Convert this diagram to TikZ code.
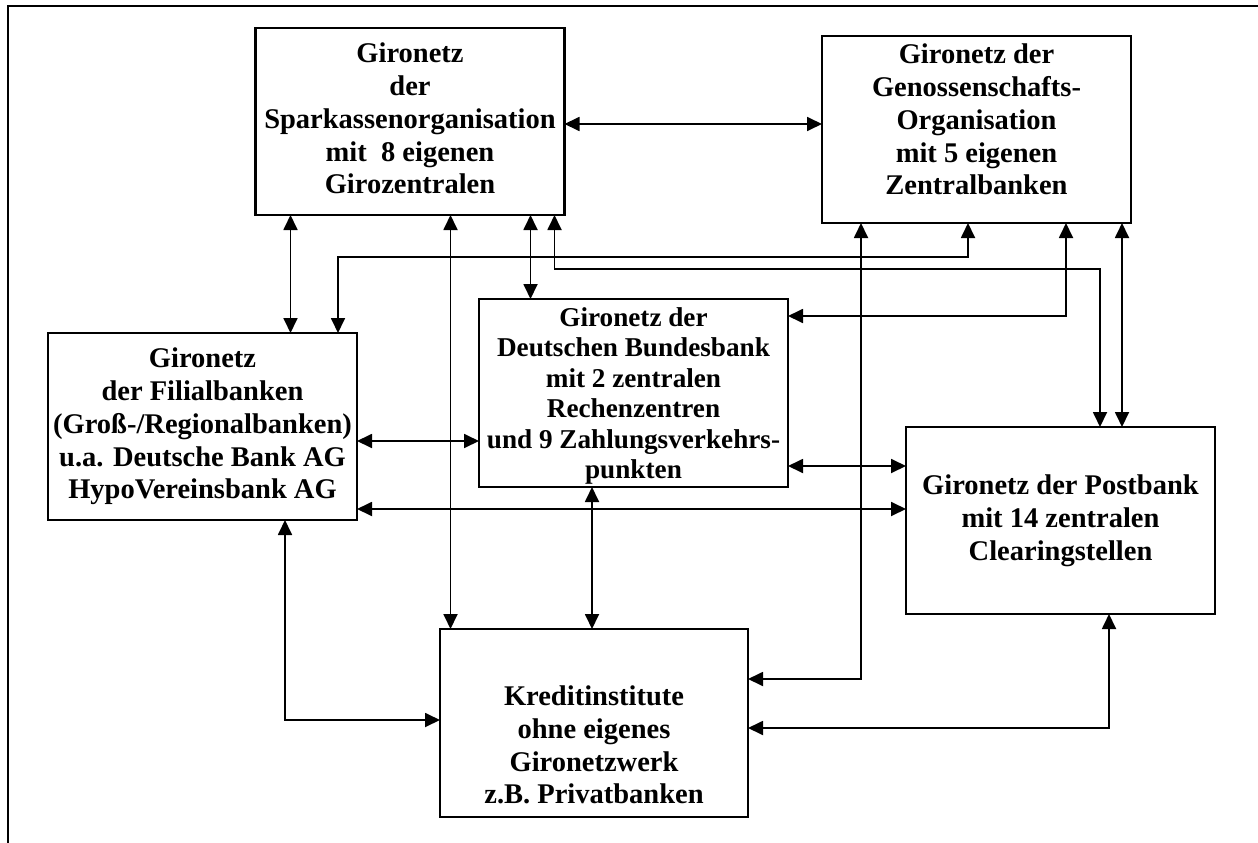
\documentclass[tikz,border=0pt]{standalone}
\usepackage{fontspec}
\setmainfont{Liberation Serif}
\usetikzlibrary{arrows.meta,calc}

\tikzset{
  netbox/.style={draw, line width=2.2pt, minimum width=309pt, minimum height=187pt,
    inner sep=0pt, outer sep=0pt},
  boxtext/.style={align=center, inner sep=0pt, font=\bfseries\fontsize{28.5}{32.8}\selectfont},
  smalltext/.style={boxtext, font=\bfseries\fontsize{27.2}{30.5}\selectfont},
  link/.style={line width=1.8pt, {Triangle[length=15pt,width=14pt]}-{Triangle[length=15pt,width=14pt]}},
}

\begin{document}
\begin{tikzpicture}[x=1pt, y=-1pt]
\useasboundingbox (0,0) rectangle (1258,843);
\clip (0,0) rectangle (1258,843);

% outer frame (open to the right and bottom)
\draw[line width=2.4pt] (1262,6) -- (8,6) -- (8,847);

% the six giro networks
\node[netbox] (spk) at (410,121.5) {};
\node[netbox] (gen) at (976.5,129.5) {};
\node[netbox] (fil) at (202.5,426.5) {};
\node[netbox, minimum height=188pt] (bbk) at (633.5,393) {};
\node[netbox] (pst) at (1060.5,520.5) {};
\node[netbox, minimum height=188pt, minimum width=308pt] (kre) at (594,723) {};

\node[boxtext] (spkt) at ($(spk.center)+(0,-3)$)
  {Gironetz\\der\\Sparkassenorganisation\\mit\ \ 8 eigenen\\Girozentralen};
\node[boxtext] (gent) at ($(gen.center)+(0,-10)$)
  {Gironetz der\\Genossenschafts-\\Organisation\\mit 5 eigenen\\Zentralbanken};
\node[boxtext] (filt) at (fil.center)
  {Gironetz\\der Filialbanken\\(Groß-/Regionalbanken)\\u.a. Deutsche Bank AG\\HypoVereinsbank AG};
\node[smalltext] (bbkt) at ($(bbk.center)+(0,3)$)
  {Gironetz der\\Deutschen Bundesbank\\mit 2 zentralen\\Rechenzentren\\und 9 Zahlungsverkehrs-\\punkten};
\node[boxtext] (pstt) at (pst.center)
  {Gironetz der Postbank\\mit 14 zentralen\\Clearingstellen};
\node[boxtext] (kret) at ($(kre.center)+(0,22)$)
  {Kreditinstitute\\ohne eigenes\\Gironetzwerk\\z.B. Privatbanken};

% connections between the networks
\draw[link] ($(spk.east)+(0,2.5)$) coordinate (c1) -- (c1 -| gen.west);
\draw[link] ($(spk.south west)+(35,0)$) coordinate (c2) -- (c2 |- fil.north);
\draw[link] ($(spk.south west)+(195,0)$) coordinate (c3) -- (c3 |- kre.north);
\draw[link] ($(spk.south west)+(275,0)$) coordinate (c4) -- (c4 |- bbk.north);
\draw[link] ($(spk.south west)+(299,0)$) -- ++(0,54) -| ($(pst.north west)+(194,0)$);
\draw[link] ($(fil.north west)+(290,0)$) -- ++(0,-76) -| ($(gen.south west)+(146,0)$);
\draw[link] ($(gen.south west)+(244,0)$) |- ($(bbk.east)+(0,-77)$);
\draw[link] ($(gen.south west)+(300,0)$) coordinate (c8) -- (c8 |- pst.north);
\draw[link] ($(gen.south west)+(39,0)$) |- ($(kre.east)+(0,-44)$);
\draw[link] ($(pst.south west)+(203,0)$) |- ($(kre.east)+(0,5)$);
\draw[link] ($(fil.east)+(0,14.5)$) coordinate (c11) -- (c11 -| bbk.west);
\draw[link] ($(fil.east)+(0,82.5)$) coordinate (c12) -- (c12 -| pst.west);
\draw[link] ($(bbk.east)+(0,73)$) coordinate (c13) -- (c13 -| pst.west);
\draw[link] ($(bbk.south west)+(113,0)$) coordinate (c14) -- (c14 |- kre.north);
\draw[link] ($(fil.south west)+(237,0)$) |- ($(kre.west)+(0,-3)$);
\end{tikzpicture}
\end{document}
